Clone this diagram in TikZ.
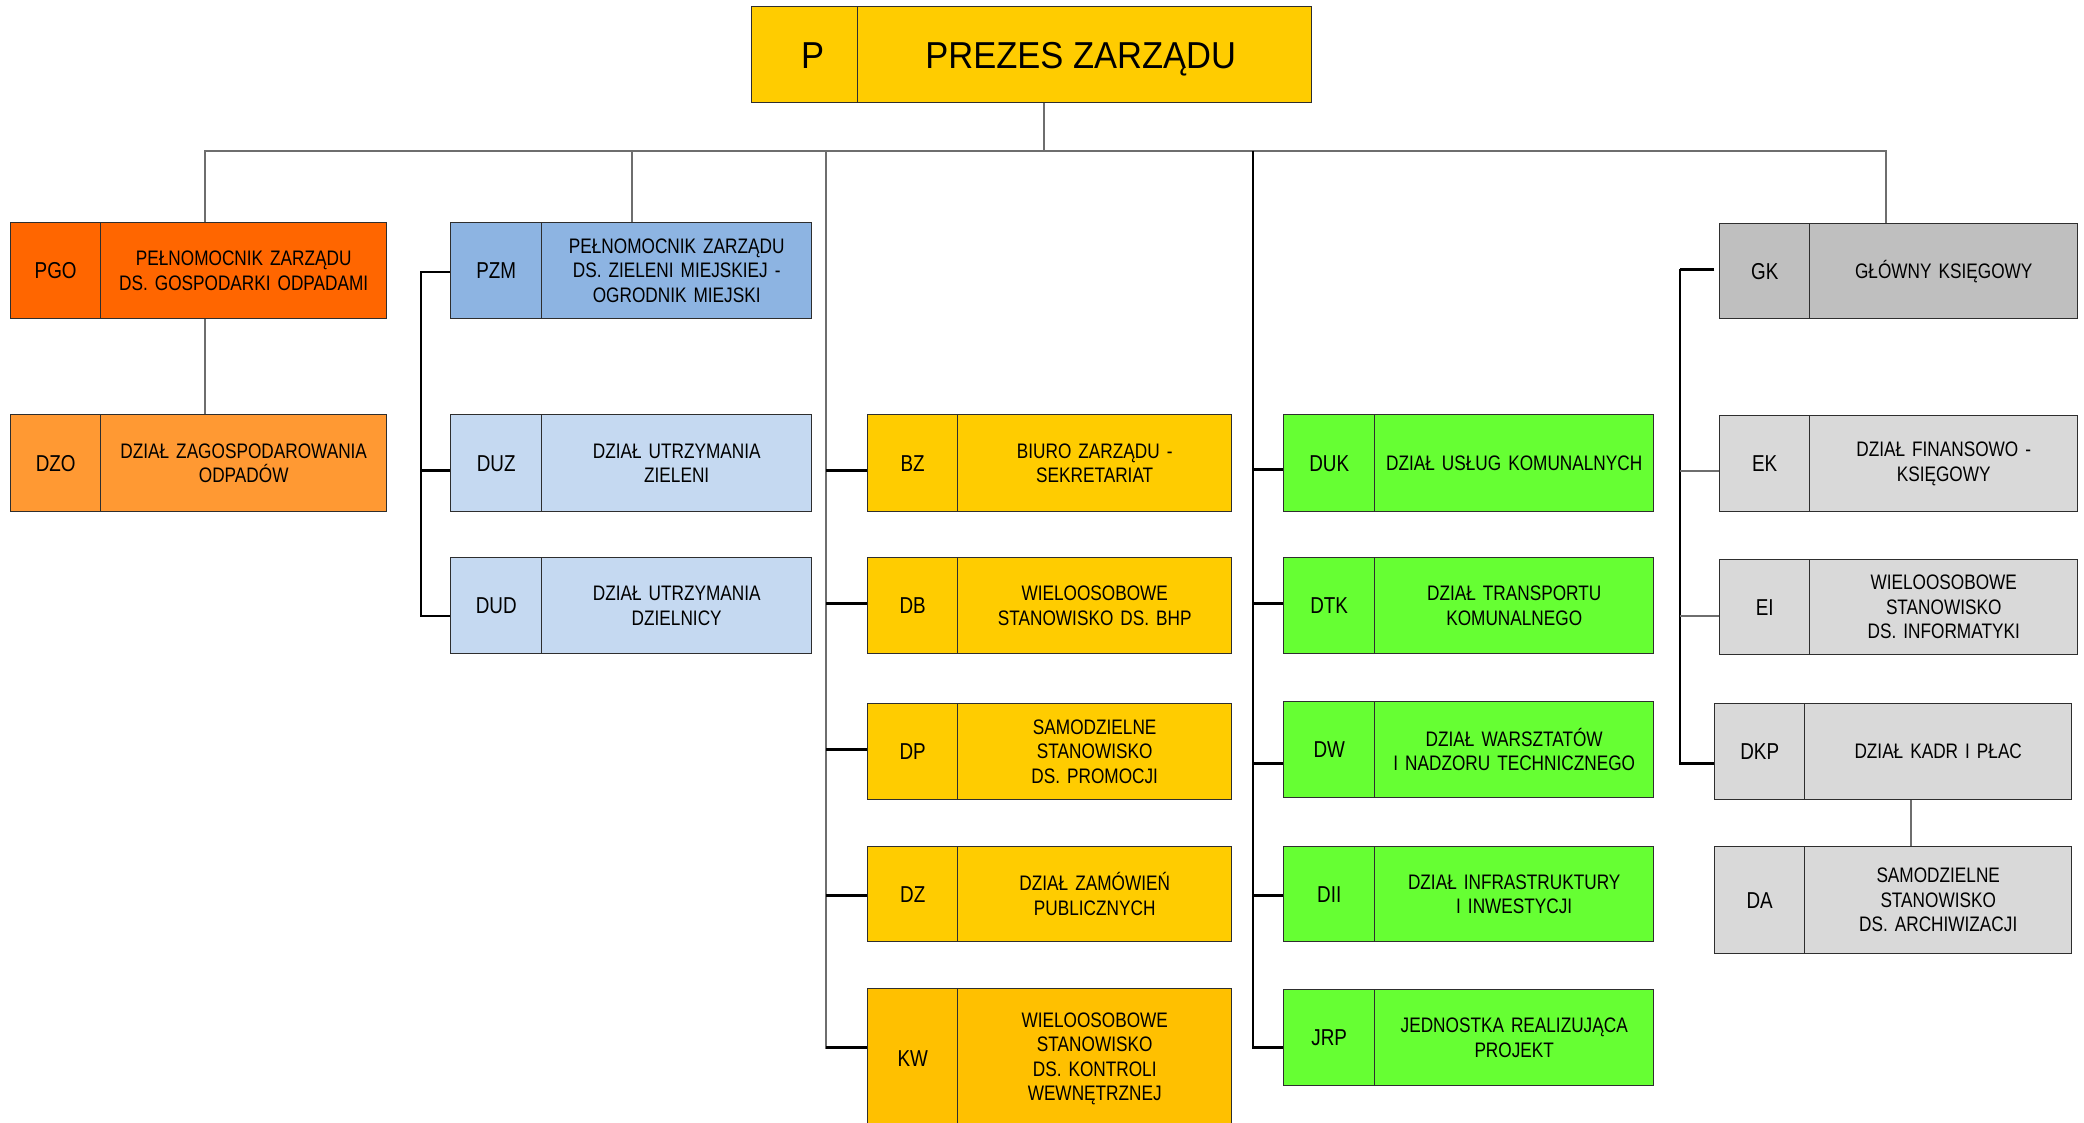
\documentclass[tikz,border=0pt]{standalone}
\usepackage{fontspec}
\setmainfont{Liberation Sans}[FakeStretch=0.82]
\newfontfamily\titlefont{Liberation Sans}[FakeStretch=0.92]
\definecolor{cYel}{HTML}{FFCC00}
\definecolor{cKW}{HTML}{FFC000}
\definecolor{cPGO}{HTML}{FF6600}
\definecolor{cDZO}{HTML}{FF9933}
\definecolor{cPZM}{HTML}{8DB4E2}
\definecolor{cBlue}{HTML}{C5D9F1}
\definecolor{cGreen}{HTML}{66FF33}
\definecolor{cGK}{HTML}{BFBFBF}
\definecolor{cGray}{HTML}{D9D9D9}
\definecolor{boxline}{HTML}{2E2E2E}
\definecolor{busgray}{HTML}{6E6E6E}
\newcommand\abbrfont{\fontsize{23}{27}\selectfont}
\newcommand\txtfont{\fontsize{21}{24.5}\selectfont}
\tikzset{
  box/.style={draw=boxline, line width=1.4pt, inner sep=0pt, anchor=north west, align=center},
  titletext/.style={font=\titlefont\fontsize{37.5}{40}\selectfont, text height=27pt, text depth=0pt},
  bus/.style={draw=busgray, line width=1.8pt},
  thinline/.style={draw=busgray, line width=1.6pt},
  trunk/.style={draw=black, line width=2.1pt},
  stub/.style={draw=black, line width=2.7pt},
}
% #1 name, #2 left, #3 top, #4 divider, #5 right, #6 bottom, #7 colour, #8 abbreviation, #9 text
\newcommand\obox[9]{%
  \node[box, fill=#7, minimum width={(#4-#2)*1pt}, minimum height={(#6-#3)*1pt}, font=\abbrfont] (#1-a) at (#2,#3) {#8};
  \node[box, fill=#7, minimum width={(#5-#4)*1pt}, minimum height={(#6-#3)*1pt}, text width={(#5-#4-10)*1pt}, font=\txtfont] (#1) at (#4,#3) {#9};
}
\begin{document}
\begin{tikzpicture}[x=1pt,y=-1pt]
\useasboundingbox (0,0) rectangle (2084,1123);
\fill[white] (0,0) rectangle (2084,1123);
\clip (0,0) rectangle (2084,1123);

% top
\node[box, fill=cYel, minimum width=106pt, minimum height=96pt, titletext] (p-a) at (751,6) {\hspace*{16pt}P};
\node[box, fill=cYel, minimum width=454pt, minimum height=96pt, titletext] (p) at (857,6) {PREZES ZARZĄDU\hspace*{8pt}};

% left
\obox{pgo}{10}{222}{100}{386}{318}{cPGO}{PGO}{PEŁNOMOCNIK ZARZĄDU\\DS. GOSPODARKI ODPADAMI}
\obox{dzo}{10}{414}{100}{386}{511}{cDZO}{DZO}{DZIAŁ ZAGOSPODAROWANIA\\ODPADÓW}

\obox{pzm}{450}{222}{541}{811}{318}{cPZM}{PZM}{PEŁNOMOCNIK ZARZĄDU\\DS. ZIELENI MIEJSKIEJ -\\OGRODNIK MIEJSKI}
\obox{duz}{450}{414}{541}{811}{511}{cBlue}{DUZ}{DZIAŁ UTRZYMANIA\\ZIELENI}
\obox{dud}{450}{557}{541}{811}{653}{cBlue}{DUD}{DZIAŁ UTRZYMANIA\\DZIELNICY}

% centre
\obox{bz}{867}{414}{957}{1231}{511}{cYel}{BZ}{BIURO ZARZĄDU -\\SEKRETARIAT}
\obox{db}{867}{557}{957}{1231}{653}{cYel}{DB}{WIELOOSOBOWE\\STANOWISKO DS. BHP}
\obox{dp}{867}{703}{957}{1231}{799}{cYel}{DP}{SAMODZIELNE\\STANOWISKO\\DS. PROMOCJI}
\obox{dz}{867}{846}{957}{1231}{941}{cYel}{DZ}{DZIAŁ ZAMÓWIEŃ\\PUBLICZNYCH}
\obox{kw}{867}{988}{957}{1231}{1128}{cKW}{KW}{WIELOOSOBOWE\\STANOWISKO\\DS. KONTROLI\\WEWNĘTRZNEJ}

\obox{duk}{1283}{414}{1374}{1653}{511}{cGreen}{DUK}{DZIAŁ USŁUG KOMUNALNYCH}
\obox{dtk}{1283}{557}{1374}{1653}{653}{cGreen}{DTK}{DZIAŁ TRANSPORTU\\KOMUNALNEGO}
\obox{dw}{1283}{701}{1374}{1653}{797}{cGreen}{DW}{DZIAŁ WARSZTATÓW\\I NADZORU TECHNICZNEGO}
\obox{dii}{1283}{846}{1374}{1653}{941}{cGreen}{DII}{DZIAŁ INFRASTRUKTURY\\I INWESTYCJI}
\obox{jrp}{1283}{989}{1374}{1653}{1085}{cGreen}{JRP}{JEDNOSTKA REALIZUJĄCA\\PROJEKT}

% right
\obox{gk}{1719}{223}{1809}{2077}{318}{cGK}{GK}{GŁÓWNY KSIĘGOWY}
\obox{ek}{1719}{415}{1809}{2077}{511}{cGray}{EK}{DZIAŁ FINANSOWO -\\KSIĘGOWY}
\obox{ei}{1719}{559}{1809}{2077}{654}{cGray}{EI}{WIELOOSOBOWE\\STANOWISKO\\DS. INFORMATYKI}
\obox{dkp}{1714}{703}{1804}{2071}{799}{cGray}{DKP}{DZIAŁ KADR I PŁAC}
\obox{da}{1714}{846}{1804}{2071}{953}{cGray}{DA}{SAMODZIELNE\\STANOWISKO\\DS. ARCHIWIZACJI}

% connectors: bus
\coordinate (busC) at (826,151);
\coordinate (busG) at (1253,151);
\draw[bus] ([xshift=-41pt]p.south) -- ++(0,49);
\draw[bus] ([xshift=-39pt]pgo.north) -- ++(0,-71) -| ([xshift=-58pt]gk.north);
\draw[bus] ([xshift=-45pt]pzm.north) -- ++(0,-71);
\draw[bus] ([xshift=-39pt]pgo.south) -- ([xshift=-39pt]dzo.north);
\draw[bus] ([xshift=-27.5pt]dkp.south) -- ([xshift=-27.5pt]da.north);

% PZM group
\draw[trunk] ([yshift=-1pt]pzm-a.west) -- ++(-29,0) |- ([yshift=-10pt]dud-a.west);
\draw[stub] ([yshift=-7pt]duz-a.west) -- ++(-29,0);

% centre yellow column
\draw[thinline] (busC) |- ([yshift=11pt]kw-a.west);
\draw[stub] ([yshift=-7pt]bz-a.west) -- ++(-41,0);
\draw[stub] ([yshift=2pt]db-a.west) -- ++(-41,0);
\draw[stub] ([yshift=2pt]dp-a.west) -- ++(-41,0);
\draw[stub] ([yshift=-1.5pt]dz-a.west) -- ++(-41,0);
\draw[stub] ([yshift=11pt]kw-a.west) -- ++(-41,0);

% green column
\draw[trunk] (busG) |- ([yshift=-10pt]jrp-a.west);
\draw[stub] ([yshift=-6.5pt]duk-a.west) -- ++(-30,0);
\draw[stub] ([yshift=2pt]dtk-a.west) -- ++(-30,0);
\draw[stub] ([yshift=-14pt]dw-a.west) -- ++(-30,0);
\draw[stub] ([yshift=-1.5pt]dii-a.west) -- ++(-30,0);
\draw[stub] ([yshift=-10pt]jrp-a.west) -- ++(-30,0);

% grey column
\draw[trunk] ([xshift=-5pt,yshift=1.5pt]gk-a.west) -- ++(-34,0) |- ([yshift=-12pt]dkp-a.west);
\draw[stub] ([xshift=-5pt,yshift=1.5pt]gk-a.west) -- ++(-34,0);
\draw[stub] ([yshift=-12pt]dkp-a.west) -- ++(-34,0);
\draw[thinline] ([yshift=-7pt]ek-a.west) -- ++(-39,0);
\draw[thinline] ([yshift=-8.5pt]ei-a.west) -- ++(-39,0);
\end{tikzpicture}
\end{document}
